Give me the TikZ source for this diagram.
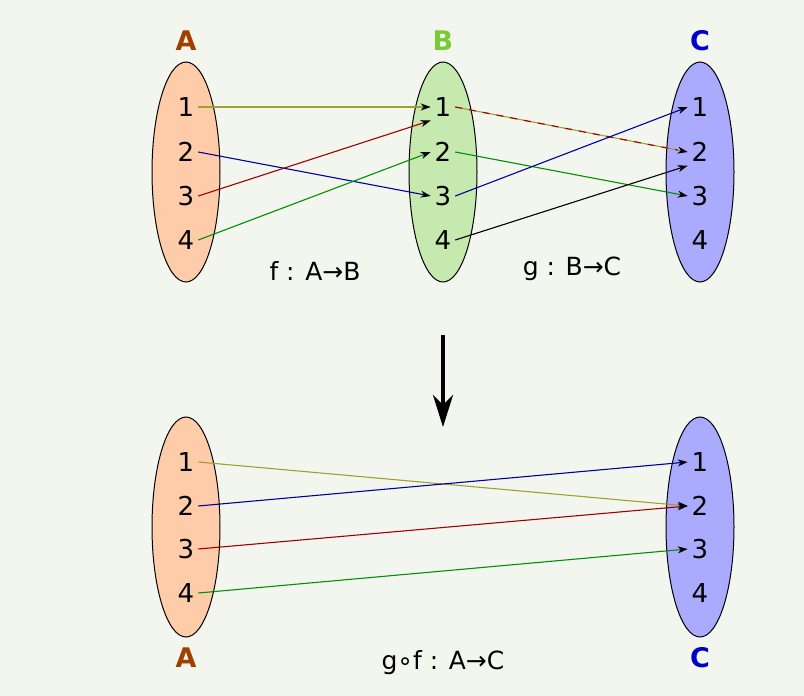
\documentclass[tikz,border=0pt]{standalone}
\usepackage{fontspec}
\setmainfont{DejaVu Sans}
\usetikzlibrary{arrows.meta}
\definecolor{bgcol}{HTML}{F3F6EE}
\definecolor{setA}{HTML}{FFCCAA}
\definecolor{setB}{HTML}{C6E9AF}
\definecolor{setC}{HTML}{AAAAFF}
\definecolor{nameA}{HTML}{A04000}
\definecolor{nameB}{HTML}{77CC33}
\definecolor{nameC}{HTML}{0000CC}
\definecolor{olivel}{HTML}{A0A030}
\definecolor{bluel}{HTML}{0000A0}
\definecolor{redl}{HTML}{A00000}
\definecolor{greenl}{HTML}{009000}
\tikzstyle{elem} = [font=\fontsize{26}{26}\selectfont,inner sep=1pt,outer sep=3pt]
\tikzstyle{setname} = [font=\fontsize{27}{27}\selectfont\bfseries]
\tikzstyle{caption} = [font=\fontsize{25}{25}\selectfont]
\tikzstyle{setbody} = [draw=black,line width=1pt]
\tikzstyle{map} = [line width=1.1pt,-{Stealth[color=black,length=10pt,width=7pt,inset=3pt]}]

\begin{document}
\begin{tikzpicture}[x=1pt,y=-1pt]
		\fill[bgcol] (0,0) rectangle (804,696);
		\useasboundingbox (0,0) rectangle (804,696);

		% top row: the three sets
		\draw[setbody,fill=setA] (186,172) ellipse (34 and 110);
		\draw[setbody,fill=setB] (443,172) ellipse (34 and 110);
		\draw[setbody,fill=setC] (700,172) ellipse (34 and 110);
		\node[setname,text=nameA] (nA) at (186,41) {A};
		\node[setname,text=nameB] (nB) at (443,41) {B};
		\node[setname,text=nameC] (nC) at (700,41) {C};

		\node[elem] (a1) at (186,107) {1}; \node[elem] (a2) at (186,152) {2};
		\node[elem] (a3) at (186,196) {3}; \node[elem] (a4) at (186,240) {4};
		\node[elem] (b1) at (443,107) {1}; \node[elem] (b2) at (443,152) {2};
		\node[elem] (b3) at (443,196) {3}; \node[elem] (b4) at (443,240) {4};
		\node[elem] (c1) at (700,107) {1}; \node[elem] (c2) at (700,152) {2};
		\node[elem] (c3) at (700,196) {3}; \node[elem] (c4) at (700,240) {4};

		% f
		\draw[map,olivel] (a1.east) -- (b1.west);
		\draw[map,bluel] (a2.east) -- (b3.west);
		\draw[map,redl] (a3.east) -- (b1.south west);
		\draw[map,greenl] (a4.east) -- (b2.west);
		% g
		\draw[map,olivel] (b1.east) -- (c2.west);
		\draw[line width=1.1pt,redl,dash pattern=on 7pt off 7pt,shorten >=10pt] (b1.east) -- (c2.west);
		\draw[map,greenl] (b2.east) -- (c3.west);
		\draw[map,bluel] (b3.east) -- (c1.west);
		\draw[map,black] (b4.east) -- (c2.south west);

		\node[caption] (f) at (315,271) {f : A→B};
		\node[caption] (g) at (572,269) {g : B→C};

		% composition arrow
		\coordinate (top) at (443,335); \coordinate (bot) at (443,427);
		\draw[line width=4pt,-{Stealth[length=32pt,width=20pt,inset=10pt]}] (top) -- (bot);

		% bottom row
		\draw[setbody,fill=setA] (186,527) ellipse (34 and 110);
		\draw[setbody,fill=setC] (700,527) ellipse (34 and 110);
		\node[setname,text=nameA] (mA) at (186,658) {A};
		\node[setname,text=nameC] (mC) at (700,658) {C};

		\node[elem] (p1) at (186,462) {1}; \node[elem] (p2) at (186,506) {2};
		\node[elem] (p3) at (186,549) {3}; \node[elem] (p4) at (186,593) {4};
		\node[elem] (q1) at (700,462) {1}; \node[elem] (q2) at (700,506) {2};
		\node[elem] (q3) at (700,549) {3}; \node[elem] (q4) at (700,593) {4};

		\draw[map,olivel] (p1.east) -- (q2.west);
		\draw[map,bluel] (p2.east) -- (q1.west);
		\draw[map,redl] (p3.east) -- (q2.west);
		\draw[map,greenl] (p4.east) -- (q3.west);

		\node[caption] (gf) at (443,663) {g∘f : A→C};
	\end{tikzpicture}
\end{document}
